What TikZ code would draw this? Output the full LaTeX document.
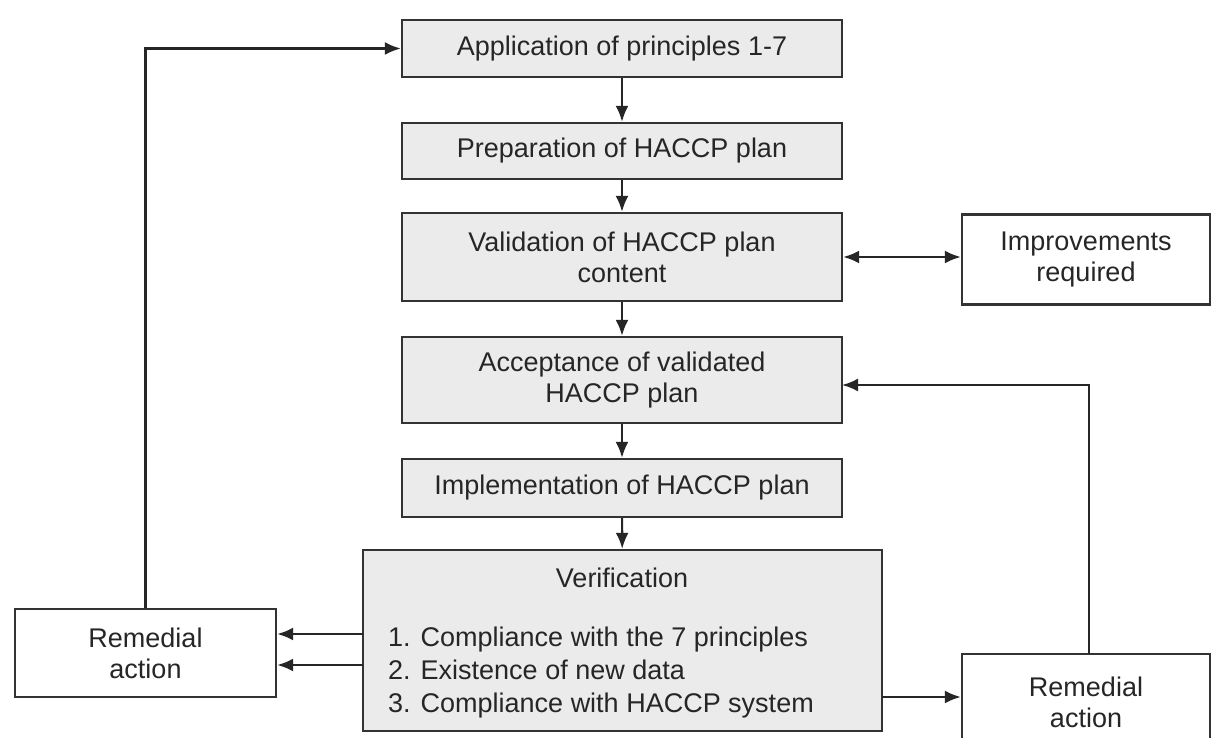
\documentclass[tikz,border=0pt]{standalone}
\usepackage{fontspec}
\setmainfont{Liberation Sans}
\usetikzlibrary{arrows.meta}
\begin{document}
\begin{tikzpicture}[x=1pt,y=-1pt,
  box/.style={draw=black!80, line width=2.4pt, fill=black!8, inner sep=0pt, align=center,
    font=\fontsize{27}{31}\selectfont, text=black!85},
  wbox/.style={box, fill=white},
  txt/.style={inner sep=0pt, font=\fontsize{27}{33}\selectfont, text=black!85},
  arr/.style={line width=2.2pt, draw=black!85, -{Latex[length=16pt,width=13pt]}},
  darr/.style={line width=2.2pt, draw=black!85, {Latex[length=16pt,width=13pt]}-{Latex[length=16pt,width=13pt]}}
]
\useasboundingbox (0,0) rectangle (1212,738);
\clip (0,0) rectangle (1212,738);
\fill[white] (0,0) rectangle (1212,738);

\node[box, minimum width=440pt, minimum height=57pt] (app) at (622,48.5) {Application of principles 1-7};
\node[box, minimum width=440pt, minimum height=56pt] (prep) at (622,151) {Preparation of HACCP plan};
\node[box, minimum width=440pt, minimum height=88pt] (valid) at (622,257) {Validation of HACCP plan\\content};
\node[box, minimum width=440pt, minimum height=86pt] (accept) at (622,380) {Acceptance of validated\\HACCP plan};
\node[box, minimum width=440pt, minimum height=58pt] (impl) at (622,488) {Implementation of HACCP plan};
\node[box, minimum width=519pt, minimum height=181pt] (verif) at (622.5,640.5) {};
\node[txt] (vtitle) at (622,578) {Verification};
\node[txt, anchor=west, align=left] (vlist) at (388,673) {1. Compliance with the 7 principles\\2. Existence of new data\\3. Compliance with HACCP system};

\node[wbox, minimum width=248pt, minimum height=90pt] (impr) at (1086,259.5) {Improvements\\required};
\node[wbox, minimum width=261pt, minimum height=88pt] (remL) at (145.5,653) {Remedial\\action};
\node[wbox, minimum width=248pt, minimum height=96pt] (remR) at (1086,702) {Remedial\\action};

\draw[arr] (app) -- (prep);
\draw[arr] (prep) -- (valid);
\draw[arr] (valid) -- (accept);
\draw[arr] (accept) -- (impl);
\draw[arr] (impl) -- (verif);

\draw[darr] (valid.east) -- (valid.east -| impr.west);

\coordinate (v1) at (363,634);
\coordinate (v2) at (363,665);
\draw[arr] (v1) -- (v1 -| remL.east);
\draw[arr] (v2) -- (v2 -| remL.east);
\draw[arr] (remL.north) |- (app.west);

\coordinate (v3) at (882,697);
\draw[arr] (v3) -- (v3 -| remR.west);
\coordinate (r1) at (1089,654);
\coordinate (a1) at (842,385);
\draw[arr] (r1) |- (a1);
\end{tikzpicture}
\end{document}
